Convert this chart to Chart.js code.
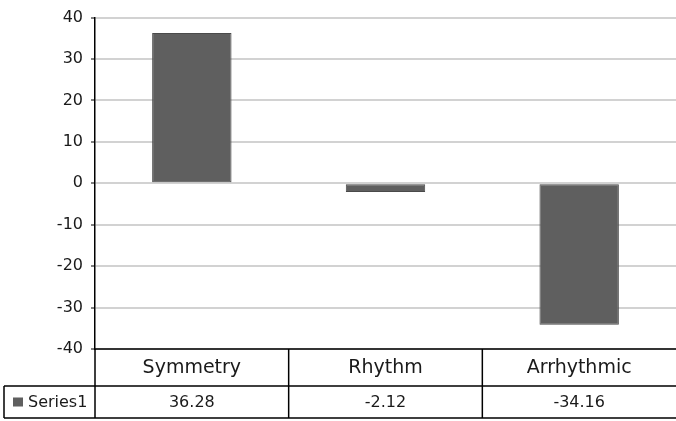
<!DOCTYPE html>
<html>
<head>
<meta charset="utf-8">
<script src="https://cdn.jsdelivr.net/npm/chart.js@4"></script>
<style>
  html, body { margin: 0; padding: 0; background: #fff; }
  #wrap { width: 676px; height: 421px; position: relative; }
</style>
</head>
<body>
<div id="wrap"><canvas id="chart"></canvas></div>
<script>
// Bar chart with an Excel-style data table underneath

const categories = ['Symmetry', 'Rhythm', 'Arrhythmic'];
const series1 = [36.28, -2.12, -34.16];
const seriesName = 'Series1';
const yTicks = [-40, -30, -20, -10, 0, 10, 20, 30, 40];

const BAR_COLOR = '#5f5f5f';
const FONT = '"DejaVu Sans", Verdana, sans-serif';

// Draws the header row (category names) and the value row with its legend key
const dataTablePlugin = {
    id: 'dataTable',
    afterDraw(chart) {
        const ctx = chart.ctx;
        const area = chart.chartArea;
        const x = chart.scales.x;
        const headerTop = area.bottom;
        const rowTop = headerTop + 37;
        const rowBottom = rowTop + 32;
        const tableLeft = 4;
        const right = chart.width;

        // column boundaries from the category scale
        const step = x.getPixelForValue(1) - x.getPixelForValue(0);
        const edges = [area.left];
        categories.forEach((c, i) => edges.push(x.getPixelForValue(i) + step / 2));

        ctx.save();
        ctx.strokeStyle = '#000';
        ctx.lineWidth = 1.5;
        ctx.beginPath();
        // top border (axis bottom)
        ctx.moveTo(area.left, headerTop);
        ctx.lineTo(right, headerTop);
        // row separator and bottom border
        ctx.moveTo(tableLeft, rowTop);
        ctx.lineTo(right, rowTop);
        ctx.moveTo(tableLeft, rowBottom);
        ctx.lineTo(right, rowBottom);
        // left border of legend cell
        ctx.moveTo(tableLeft, rowTop);
        ctx.lineTo(tableLeft, rowBottom);
        // column dividers
        edges.forEach((ex, i) => {
            if (i === edges.length - 1) return;
            ctx.moveTo(ex, headerTop);
            ctx.lineTo(ex, rowBottom);
        });
        ctx.stroke();

        ctx.fillStyle = '#1a1a1a';
        ctx.textAlign = 'center';
        ctx.textBaseline = 'middle';
        categories.forEach((c, i) => {
            const cx = x.getPixelForValue(i);
            ctx.font = '19px ' + FONT;
            ctx.fillText(c, cx, (headerTop + rowTop) / 2 + 1);
            ctx.font = '16px ' + FONT;
            ctx.fillText(series1[i].toFixed(2), cx, (rowTop + rowBottom) / 2 + 1);
        });

        // legend key + series name
        const midRow = (rowTop + rowBottom) / 2;
        ctx.fillStyle = BAR_COLOR;
        ctx.fillRect(13, midRow - 4.5, 10, 9);
        ctx.fillStyle = '#1a1a1a';
        ctx.textAlign = 'left';
        ctx.font = '16px ' + FONT;
        ctx.fillText(seriesName, 28, midRow + 1);
        ctx.restore();
    }
};

new Chart(document.getElementById('chart'), {
    type: 'bar',
    data: {
        labels: categories,
        datasets: [{
            label: seriesName,
            data: series1,
            backgroundColor: BAR_COLOR,
            borderColor: '#4a4a4a',
            borderWidth: 1,
            borderSkipped: false,
            categoryPercentage: 1,
            barPercentage: 0.41
        }]
    },
    options: {
        responsive: true,
        maintainAspectRatio: false,
        animation: false,
        layout: {
            padding: { top: 14, right: 0, bottom: 72, left: 0 }
        },
        plugins: {
            legend: { display: false },
            tooltip: { enabled: false }
        },
        scales: {
            x: {
                display: false
            },
            y: {
                min: -40,
                max: 40,
                afterBuildTicks(scale) {
                    scale.ticks = yTicks.map(v => ({ value: v }));
                },
                afterFit(scale) {
                    scale.width = 95;
                },
                ticks: {
                    padding: 8,
                    color: '#1a1a1a',
                    font: { family: FONT, size: 16 }
                },
                grid: {
                    color: '#d2d2d2',
                    lineWidth: 2,
                    tickLength: 4,
                    tickColor: '#000',
                    tickWidth: 1
                },
                border: {
                    color: '#000',
                    width: 1.5
                }
            }
        }
    },
    plugins: [dataTablePlugin]
});
</script>
</body>
</html>
